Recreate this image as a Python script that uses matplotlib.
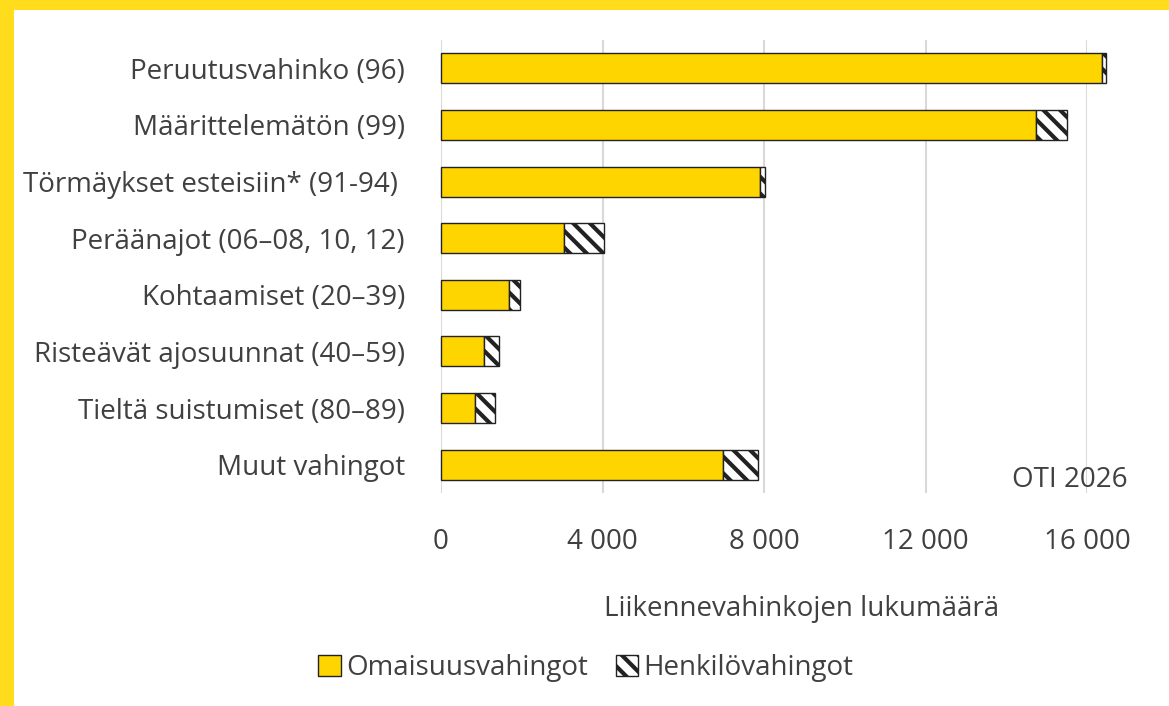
import matplotlib.pyplot as plt
import matplotlib as mpl

# ---------- Data ----------
categories = [
    "Peruutusvahinko (96)",
    "Määrittelemätön (99)",
    "Törmäykset esteisiin* (91-94) ",
    "Peräänajot (06\u201308, 10, 12)",
    "Kohtaamiset (20\u201339)",
    "Risteävät ajosuunnat (40\u201359)",
    "Tieltä suistumiset (80\u201389)",
    "Muut vahingot",
]
omaisuus = [16380, 14730, 7900, 3050, 1680, 1075, 850, 6975]
henkilo = [100, 780, 120, 985, 280, 360, 480, 875]
xticks = [0, 4000, 8000, 12000, 16000]
xtick_labels = ["0", "4 000", "8 000", "12 000", "16 000"]

# ---------- Style ----------
plt.rcParams["font.family"] = ["Open Sans", "DejaVu Sans"]
plt.rcParams["hatch.linewidth"] = 3.0
plt.rcParams["hatch.color"] = "black"
TEXT = "#404040"
YELLOW = "#FFD500"
BORDER = "#FFDD1C"
FS = 20

fig = plt.figure(figsize=(11.69, 7.06), dpi=100)
fig.patch.set_facecolor(BORDER)
# white panel inside the yellow frame
fig.add_artist(mpl.patches.Rectangle((14 / 1169, 0), 1, 1 - 10 / 706,
                                     transform=fig.transFigure,
                                     facecolor="white", edgecolor="none", zorder=0))

ax = fig.add_axes([441 / 1169, 1 - 493 / 706, (1087 - 441) / 1169, (493 - 40) / 706])
ax.set_facecolor("none")

y = list(range(len(categories)))
ax.barh(y, omaisuus, height=0.53, color=YELLOW, edgecolor="#222222",
        linewidth=1.0, label="Omaisuusvahingot", clip_on=False, zorder=3)
ax.barh(y, henkilo, left=omaisuus, height=0.53, color="white", edgecolor="#222222",
        hatch="\\\\", linewidth=1.0, label="Henkilövahingot", clip_on=False, zorder=3)

ax.set_ylim(len(categories) - 0.5, -0.5)
ax.set_xlim(0, 16000)
ax.set_yticks(y)
ax.set_yticklabels(categories, fontsize=FS, color=TEXT)
ax.set_xticks(xticks)
ax.set_xticklabels(xtick_labels, fontsize=FS, color=TEXT)
ax.tick_params(axis="both", length=0)
ax.tick_params(axis="y", pad=26)
ax.tick_params(axis="x", pad=25)
ax.grid(axis="x", color="#D9D9D9", linewidth=1.5, zorder=0)
for s in ax.spines.values():
    s.set_visible(False)

fig.text(1128 / 1169, 1 - 480 / 706, "OTI 2026", ha="right", va="center",
         fontsize=FS, color=TEXT)
fig.text(802 / 1169, 1 - 609 / 706, "Liikennevahinkojen lukumäärä", ha="center",
         va="center", fontsize=FS, color=TEXT)

leg = fig.legend(loc="center", bbox_to_anchor=(586 / 1169, 1 - 668 / 706), ncol=2,
                 frameon=False, fontsize=FS, handlelength=0.8, handleheight=0.8,
                 handletextpad=0.2, columnspacing=1.0)
for t in leg.get_texts():
    t.set_color(TEXT)

fig.savefig("out.png", dpi=100, facecolor=fig.get_facecolor())
